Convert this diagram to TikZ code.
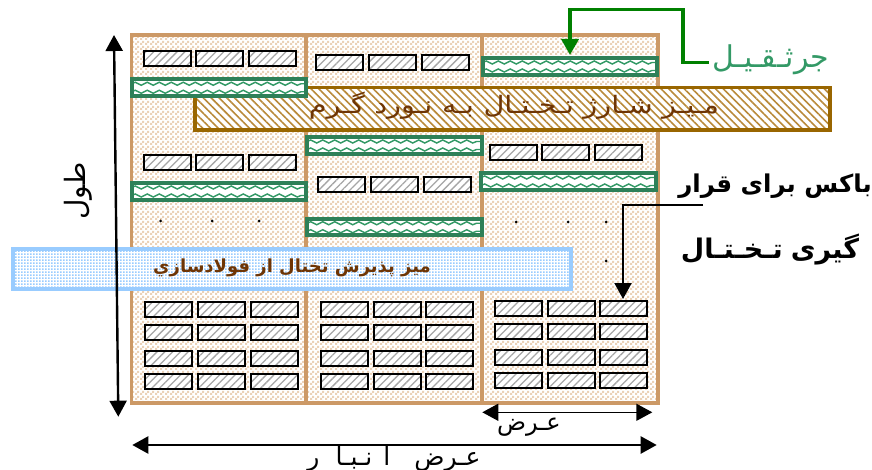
\documentclass[tikz,border=0pt]{standalone}
\usepackage{fontspec}
\usetikzlibrary{arrows.meta,patterns,patterns.meta,decorations.pathmorphing}
\TeXXeTstate=1
\newfontfamily\arabicfont[Script=Arabic]{DejaVu Sans}
\definecolor{beigeline}{HTML}{CC9966}
\definecolor{beigecheck}{HTML}{EBD2B8}
\definecolor{seagreen}{HTML}{2E8058}
\definecolor{wavegreen}{HTML}{339966}
\definecolor{tablebrown}{HTML}{996600}
\definecolor{hatchbrown}{HTML}{B98A3A}
\definecolor{textbrown}{HTML}{6E3505}
\definecolor{tableblue}{HTML}{99CCFF}
\definecolor{darkgreen}{HTML}{008000}
\pgfdeclarepatternformonly{checker}{\pgfqpoint{0pt}{0pt}}{\pgfqpoint{5pt}{5pt}}{\pgfqpoint{5pt}{5pt}}{%
  \pgfpathrectangle{\pgfqpoint{0pt}{0pt}}{\pgfqpoint{2.5pt}{2.5pt}}%
  \pgfpathrectangle{\pgfqpoint{2.5pt}{2.5pt}}{\pgfqpoint{2.5pt}{2.5pt}}%
  \pgfusepath{fill}}
\pgfdeclarepatternformonly{finedots}{\pgfqpoint{0pt}{0pt}}{\pgfqpoint{3.2pt}{3.2pt}}{\pgfqpoint{3.2pt}{3.2pt}}{%
  \pgfpathrectangle{\pgfqpoint{0pt}{0pt}}{\pgfqpoint{2pt}{2pt}}%
  \pgfusepath{fill}}
\tikzset{
  x=1pt,y=-1pt,
  rect/.style={draw,rectangle,inner sep=0pt,outer sep=0pt},
  hall/.style={rect,draw=beigeline,line width=3.8pt,preaction={fill=white},pattern=checker,pattern color=beigecheck},
  slab/.style={rect,draw=black,line width=2pt,preaction={fill=white},pattern={Lines[angle=45,distance=5.5pt,line width=1.3pt]},pattern color=black!35},
  crane/.style={rect,draw=seagreen,line width=4pt,fill=white,path picture={
     \draw[wavegreen,line width=1.4pt,decorate,decoration={snake,segment length=12pt,amplitude=1.5pt}]
       ([yshift=4pt]path picture bounding box.west)--([yshift=4pt]path picture bounding box.east);
     \draw[wavegreen,line width=1.4pt,decorate,decoration={snake,segment length=12pt,amplitude=1.5pt}]
       ([yshift=-4pt]path picture bounding box.west)--([yshift=-4pt]path picture bounding box.east);}},
  hottable/.style={rect,draw=tablebrown,line width=3.8pt,preaction={fill=white},pattern={Lines[angle=-45,distance=5.5pt,line width=1.6pt]},pattern color=hatchbrown},
  bluetable/.style={rect,draw=tableblue,line width=4.5pt,preaction={fill=white},pattern=finedots,pattern color=tableblue},
  dimhead/.style={{Triangle[length=16pt,width=17pt]}-{Triangle[length=16pt,width=17pt]}},
  dimline/.style={draw=black,line width=2.4pt,dimhead},
  callout/.style={line width=2pt,-{Triangle[length=16pt,width=17pt]}},
  dotmark/.style={circle,fill=black,inner sep=0pt,minimum size=3pt},
  txt/.style={inner sep=0pt,outer sep=0pt,font=\arabicfont},
}
% #1 name, #2-#5 x1,y1,x2,y2, #6 style
\newcommand\rnode[6]{%
  \pgfmathsetlengthmacro\rnw{(#4)-(#2)}%
  \pgfmathsetlengthmacro\rnh{(#5)-(#3)}%
  \node[#6,minimum width=\rnw,minimum height=\rnh] (#1) at ({((#2)+(#4))/2},{((#3)+(#5))/2}) {};}
% #1 prefix, #2,#3,#4 x starts, #5,#6 y1,y2
\newcommand\slabrow[6]{%
  \rnode{#1a}{#2}{#5}{#2+47}{#6}{slab}\rnode{#1b}{#3}{#5}{#3+47}{#6}{slab}\rnode{#1c}{#4}{#5}{#4+47}{#6}{slab}}
\begin{document}
\begin{tikzpicture}
\useasboundingbox (0,0) rectangle (872,470);
\rnode{hall}{131.5}{35}{658}{403}{hall}
\coordinate (d1t) at (306,35); \coordinate (d1b) at (306,403);
\coordinate (d2t) at (482,35); \coordinate (d2b) at (482,403);
\draw[beigeline,line width=3.8pt] (d1t)--(d1b) (d2t)--(d2b);
% upper slabs
\slabrow{ua}{143.5}{196}{249}{51.5}{66}
\slabrow{ub}{315.5}{368.5}{421.5}{55.5}{70}
\slabrow{uc}{143.5}{196}{249}{155.5}{170.5}
\slabrow{ud}{317.5}{370.5}{423.5}{177.5}{192}
\slabrow{ue}{489.5}{542}{595}{145}{160.5}
% bottom slabs
\foreach \r/\ya/\yb in {p/302/317,q/325/340,r/351/366,s/374/389}{
  \slabrow{\r l}{145}{198}{251}{\ya}{\yb}
  \slabrow{\r m}{320.5}{373.5}{426}{\ya}{\yb}
}
\foreach \r/\ya/\yb in {t/300.5/315.5,u/323.5/338.5,v/349.5/364.5,w/372.5/387.5}{
  \slabrow{\r n}{494.5}{547.5}{600}{\ya}{\yb}
}
% dots
\foreach \n/\x/\y in {a/160.7/221,b/212/221,c/259/221,d/516/222,e/568/222,f/606/222,g/606/261}
  \node[dotmark] (dot\n) at (\x,\y) {};
% tables and cranes
\rnode{hot}{195}{87.5}{830}{130}{hottable}
\rnode{cr1}{131.5}{79.5}{305.5}{96}{crane}
\rnode{cr2}{131.5}{183}{305.5}{200}{crane}
\rnode{cr3}{307}{137}{482}{154}{crane}
\rnode{cr4}{307}{219}{482}{235.5}{crane}
\rnode{cr5}{482.5}{58}{657}{75}{crane}
\rnode{cr6}{481}{173}{656}{190}{crane}
\rnode{blue}{13}{249}{571}{289}{bluetable}
% texts
\node[txt,text=textbrown,font=\arabicfont\fontsize{24}{28}\selectfont] (hottext) at (514,106) {\scalebox{1.2}[1]{\beginR مـیـز\hspace{8pt}شـارژ\hspace{8pt}تـخـتـال\hspace{8pt}بـه\hspace{8pt}نـورد\hspace{8pt}گـرم\endR}};
\node[txt,text=textbrown,font=\arabicfont\bfseries\fontsize{18}{22}\selectfont] (bluetext) at (292,268) {\beginR میز پذیرش تختال از فولادسازي\endR};
\node[txt,text=wavegreen,font=\arabicfont\fontsize{30}{34}\selectfont] (cranelabel) at (771,60) {\beginR جرثـقـیـل\endR};
\node[txt,font=\arabicfont\bfseries\fontsize{24.5}{28}\selectfont] (boxa) at (775,186) {\beginR باکس برای قرار\endR};
\node[txt,font=\arabicfont\bfseries\fontsize{27}{32}\selectfont] (boxb) at (770,250) {\beginR گیری\hspace{8pt}تـخـتـال\endR};
\node[txt,rotate=90,font=\arabicfont\fontsize{28}{32}\selectfont] (length) at (78,191) {\beginR طول\endR};
\node[txt,font=\arabicfont\fontsize{24}{28}\selectfont] (width) at (529,427) {\beginR عـرض\endR};
\node[txt,font=\arabicfont\fontsize{25}{28}\selectfont] (halfwidth) at (394,459) {\beginR عـرض\hspace{24pt}ا\hspace{11pt}نـبـا\hspace{16pt}ر\endR};
% connectors
\coordinate (lt) at (114,35); \coordinate (lb) at (118.3,416.7);
\draw[dimline] (lt)--(lb);
\coordinate (wl) at (482.3,412.3); \coordinate (wr) at (652.3,412.3);
\draw[dimline,line width=1.4pt] (wl)--(wr);
\coordinate (al) at (132.3,445); \coordinate (ar) at (656.7,445);
\draw[dimline] (al)--(ar);
\coordinate (cs) at (708.7,62.7);
\draw[callout,darkgreen,line width=3.6pt] (cs) -- (683,62.7) -- (683,9.7) -- (570,9.7) -- (570,55);
\coordinate (bs) at (703,205);
\draw[callout] (bs) -- (623,205) -- (623,299);
\end{tikzpicture}
\end{document}
